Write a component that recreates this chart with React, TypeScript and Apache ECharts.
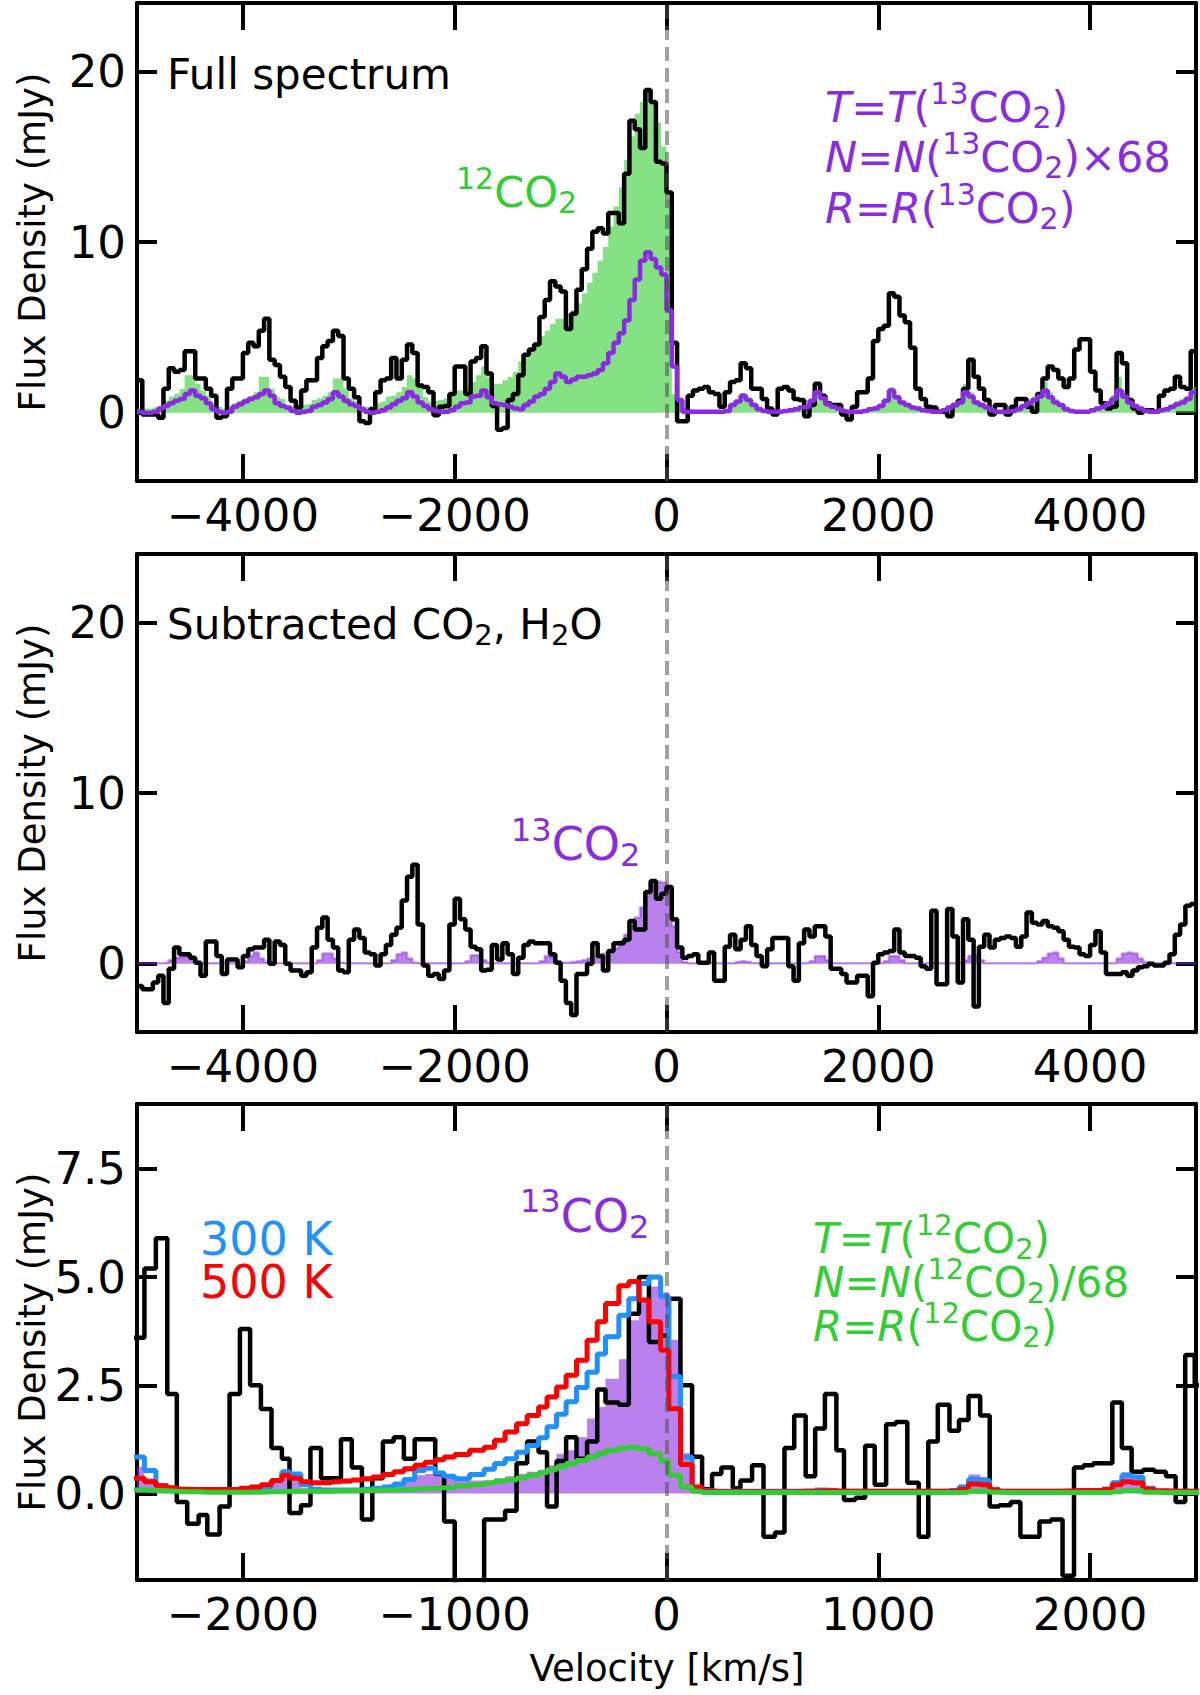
import React, { useEffect, useRef } from "react";
import * as echarts from "echarts";

const FONT = "DejaVu Sans";
const PURPLE = "#8a2be2";
const GREEN = "#32cd32";
const BLUE = "#1e90ff";
const RED = "#ff0000";

// panels 1 & 2: bins of 50 km/s, first centre at -4975
const WIDE_START = -4975;
const WIDE_BIN = 50;
const WIDE_X_TICKS = [-4000, -2000, 0, 2000, 4000];
const WIDE_Y_TICKS = [0, 10, 20];
const ZOOM_X_TICKS = [-2000, -1000, 0, 1000, 2000];
const ZOOM_Y_TICKS = [0, 2.5, 5, 7.5];

// panel 1: observed spectrum (black)
const P1_OBS = [
  1.9, -0.1, -0.1, -0.1, -0.3, 1.4, 2.6, 2.4, 2.5, 3.6,
  3.6, 2.0, 2.0, 1.4, 1.0, -0.3, -0.2, 1.4, 2.0, 2.0,
  3.5, 4.1, 3.9, 4.8, 5.5, 3.1, 2.8, 2.1, 1.5, 0.7,
  0.3, 1.3, 1.9, 1.9, 3.2, 3.9, 4.2, 4.8, 4.5, 2.0,
  1.4, 0.9, -0.5, -0.6, 0.2, 1.2, 1.9, 2.0, 3.2, 2.0,
  3.1, 4.0, 3.5, 1.6, 1.5, 1.2, -0.15, 0.35, 0.4, 1.1,
  2.7, 2.7, 1.1, 3.0, 3.2, 3.9, 2.3, 0.4, -1.0, -0.9,
  0.75, 1.1, 2.2, 3.4, 3.7, 4.0, 5.6, 6.6, 7.7, 7.4,
  7.1, 4.9, 5.8, 7.2, 8.4, 9.6, 10.6, 10.8, 10.5, 11.7,
  11.7, 11.1, 14.0, 17.1, 16.6, 15.5, 18.9, 18.2, 14.7, 14.6,
  12.9, 4.1, -0.5, -0.5, 1.0, 1.3, 1.4, 1.5, 1.2, 1.1,
  0.35, 1.2, 1.8, 1.9, 2.9, 2.6, 1.4, 1.4, 0.8, 0.25,
  -0.1, 1.4, 1.5, 1.3, 0.8, 0.75, -0.2, 0.45, 1.7, 1.0,
  0.55, 0.45, 0.45, -0.1, -0.4, 0.35, 1.2, 1.2, 2.0, 4.2,
  4.9, 5.1, 7.0, 6.8, 5.7, 5.3, 3.8, 1.4, 0.8, 0.35,
  0.3, 0.05, 0.05, -0.2, 0.45, 0.7, 1.4, 3.1, 2.1, 1.4,
  0.75, -0.1, 0.45, 0.45, -0.1, 0.35, 0.8, 0.8, 0.35, 0.05,
  1.1, 2.0, 2.7, 2.5, 2.0, 1.5, 2.0, 3.7, 4.3, 4.3,
  2.4, 1.3, 0.55, 0.25, 0.35, 3.5, 2.9, 0.75, 0.25, 0,
  0.15, 0.15, 0.05, 1.0, 1.3, 1.4, 2.1, 1.5, 1.4, 3.6,
];

// panel 1: 12CO2 model (green fill)
const P1_CO2_12 = [
  0.25, 0.25, 0.25, 0.3, 0.4, 0.7, 0.95, 1.1, 1.4, 2.2,
  2.2, 1.7, 1.3, 1.0, 0.5, 0.35, 0.25, 0.3, 0.55, 0.7,
  0.85, 1.0, 1.2, 2.1, 2.1, 1.4, 0.9, 0.8, 0.4, 0.35,
  0.35, 0.45, 0.5, 0.75, 0.85, 1.0, 1.2, 2.0, 2.0, 1.4,
  0.85, 0.7, 0.4, 0.35, 0.4, 0.55, 0.65, 0.95, 1.0, 1.2,
  1.5, 2.2, 2.0, 1.5, 0.9, 0.65, 0.7, 0.75, 0.85, 1.1,
  1.3, 1.3, 1.6, 1.8, 2.2, 2.7, 2.1, 1.7, 1.7, 1.9,
  2.1, 2.4, 3.0, 3.3, 3.7, 4.1, 4.5, 4.8, 5.2, 5.5,
  5.5, 5.8, 6.0, 6.4, 7.0, 7.6, 8.2, 8.9, 9.7, 10.9,
  12.1, 13.2, 14.8, 16.2, 17.5, 18.2, 18.9, 18.2, 17.0, 15.6,
  12.5, 1.1, 0.75, 0.3, 0.2, 0.15, 0.1, 0.1, 0.1, 0.1,
  0.15, 0.2, 0.55, 0.75, 1.15, 0.85, 0.5, 0.3, 0.2, 0.1,
  0.1, 0.1, 0.15, 0.2, 0.3, 0.35, 0.45, 0.8, 1.3, 0.95,
  0.6, 0.4, 0.3, 0.15, 0.1, 0.1, 0.1, 0.15, 0.25, 0.35,
  0.5, 0.85, 1.5, 1.05, 0.7, 0.5, 0.4, 0.3, 0.2, 0.15,
  0.1, 0.1, 0.2, 0.35, 0.55, 0.75, 1.7, 1.2, 0.75, 0.55,
  0.35, 0.2, 0.1, 0.1, 0.1, 0.15, 0.3, 0.5, 0.7, 0.95,
  1.2, 1.8, 1.2, 0.8, 0.55, 0.3, 0.15, 0.1, 0.1, 0.1,
  0.2, 0.3, 0.45, 0.7, 1.05, 2.1, 1.3, 0.8, 0.5, 0.3,
  0.15, 0.1, 0.1, 0.2, 0.3, 0.45, 0.65, 0.8, 1.0, 1.5,
];

// panel 1: 13CO2 model x68 (purple line)
const P1_CO2_13 = [
  0.05, 0, 0, 0.05, 0.25, 0.4, 0.55, 0.7, 0.8, 1.1,
  1.3, 1.0, 0.85, 0.55, 0.2, 0.05, 0, 0.05, 0.35, 0.5,
  0.65, 0.8, 0.9, 1.1, 1.3, 1.0, 0.55, 0.4, 0.3, 0.1,
  0, 0.05, 0.1, 0.35, 0.45, 0.6, 0.8, 1.2, 0.95, 0.7,
  0.5, 0.4, 0.2, 0.05, 0, 0.05, 0.15, 0.3, 0.5, 0.7,
  0.85, 1.2, 0.95, 0.6, 0.4, 0.2, 0.1, 0.05, 0.05, 0.15,
  0.35, 0.55, 0.6, 0.95, 1.0, 1.3, 0.9, 0.55, 0.5, 0.45,
  0.35, 0.25, 0.2, 0.45, 0.65, 0.95, 1.1, 1.4, 1.8, 2.3,
  2.1, 1.8, 1.95, 2.1, 2.1, 2.2, 2.3, 2.5, 2.9, 3.5,
  4.1, 4.65, 5.4, 6.6, 7.8, 8.9, 9.4, 9.0, 8.5, 8.1,
  6.0, 2.7, 0.75, 0.05, 0.05, 0.05, 0.05, 0.05, 0.05, 0.05,
  0.05, 0.1, 0.45, 0.65, 1.0, 0.75, 0.45, 0.2, 0.1, 0.05,
  0.05, 0.05, 0.1, 0.15, 0.2, 0.3, 0.35, 0.7, 1.2, 0.85,
  0.5, 0.35, 0.25, 0.1, 0.05, 0.05, 0.05, 0.1, 0.2, 0.25,
  0.4, 0.7, 1.3, 0.9, 0.6, 0.45, 0.3, 0.25, 0.15, 0.1,
  0.05, 0.05, 0.15, 0.3, 0.45, 0.6, 1.2, 0.95, 0.6, 0.45,
  0.3, 0.15, 0.05, 0.05, 0.05, 0.1, 0.2, 0.4, 0.55, 0.75,
  0.95, 1.3, 0.9, 0.6, 0.45, 0.2, 0.1, 0.05, 0.05, 0.05,
  0.15, 0.25, 0.35, 0.55, 0.8, 1.3, 0.95, 0.6, 0.4, 0.25,
  0.1, 0.05, 0.05, 0.15, 0.2, 0.35, 0.5, 0.6, 0.8, 1.2,
];

// panel 2: residual after subtracting CO2 and H2O (black)
const P2_OBS = [
  -1.3, -1.5, -1.5, -1.1, -0.7, -2.3, -0.3, 0.95, 0.55, 0.55,
  0.35, 0.05, -0.7, 1.3, 1.3, 0.45, -0.6, 0.25, 0.25, -0.2,
  0.45, 0.85, 0.95, 0.95, 1.4, 0, 1.3, 1.1, 0, -0.4,
  -0.4, -0.7, -0.5, 0.95, 2.1, 2.7, 1.4, 0.95, -0.4, -0.5,
  1.4, 2.0, 1.5, 0.65, 0.55, -0.1, 0.55, 1.1, 1.7, 2.1,
  3.7, 5.1, 5.8, 2.3, -0.1, -0.7, -0.6, -0.9, -0.4, 2.3,
  3.8, 2.6, 2.0, 1.0, 0.85, -0.4, -0.35, 1.1, 0.25, 1.2,
  0.55, -0.6, 0.35, 1.1, 1.3, 1.2, 1.2, 1.2, 0.55, 0.05,
  -1.0, -2.3, -3.0, -0.6, -0.6, 0, 1.2, 0.45, -0.4, 0.75,
  1.2, 1.2, 1.4, 2.5, 2.0, 2.0, 4.2, 4.85, 3.8, 4.1,
  4.5, 2.6, 0.95, 0.35, 0.45, 0.55, 0.05, 0.05, 0.65, -1.0,
  -1.0, 1.0, 1.7, 0.85, 1.4, 2.2, 1.1, 0.45, -0.15, 0.85,
  1.5, 1.5, 1.5, -0.15, -1.0, 1.2, 2.0, 1.6, 2.2, 2.2,
  1.6, -0.3, -0.3, -0.6, -1.1, -1.1, -0.7, -0.7, -1.9, 0.05,
  0.55, 0.65, 0.75, 2.0, 0.65, 0.45, 0.45, 0.35, -0.15, -0.3,
  3.1, -1.2, -1.2, 3.2, 1.6, -1.1, 2.6, 1.4, -2.5, 1.0,
  1.7, 0.95, 1.4, 1.5, 1.6, 1.5, 1.0, 1.6, 3.0, 2.4,
  2.3, 2.5, 2.2, 2.1, 1.9, 1.4, 1.0, 0.95, 0.55, 0.45,
  1.1, 1.9, 0.65, -0.6, -0.6, -0.6, -0.5, -0.7, -0.4, -0.2,
  -0.15, 0, -0.1, -0.1, 0.05, 0.55, 1.7, 2.3, 3.4, 3.5,
];

// panel 2: 13CO2 model (purple fill)
const P2_CO2_13 = [
  0.02, 0.02, 0.02, 0.02, 0.02, 0.05, 0.2, 0.35, 0.4, 0.45,
  0.25, 0.1, 0.02, 0.02, 0.02, 0.02, 0.02, 0.02, 0.02, 0.02,
  0.15, 0.45, 0.65, 0.3, 0.1, 0.02, 0.02, 0.02, 0.02, 0.02,
  0.02, 0.02, 0.02, 0.02, 0.2, 0.6, 0.6, 0.3, 0.05, 0.02,
  0.02, 0.02, 0.02, 0.02, 0.02, 0.02, 0.02, 0.02, 0.2, 0.55,
  0.65, 0.3, 0.05, 0.02, 0.02, 0.02, 0.02, 0.02, 0.02, 0.02,
  0.02, 0.02, 0.15, 0.5, 0.5, 0.2, 0.05, 0.02, 0.02, 0.02,
  0.02, 0.02, 0.02, 0.02, 0.02, 0.02, 0.15, 0.45, 0.4, 0.15,
  0.05, 0.05, 0.1, 0.15, 0.2, 0.3, 0.4, 0.45, 0.6, 0.75,
  0.9, 1.3, 1.7, 2.2, 2.7, 3.3, 4.0, 4.6, 4.8, 4.75,
  4.4, 2.2, 0.7, 0.1, 0.02, 0.02, 0.02, 0.02, 0.02, 0.02,
  0.02, 0.02, 0.02, 0.1, 0.15, 0.1, 0.02, 0.02, 0.02, 0.02,
  0.02, 0.02, 0.02, 0.02, 0.02, 0.02, 0.02, 0.15, 0.45, 0.45,
  0.2, 0.02, 0.02, 0.02, 0.02, 0.02, 0.02, 0.02, 0.02, 0.02,
  0.02, 0.15, 0.45, 0.45, 0.2, 0.02, 0.02, 0.02, 0.02, 0.02,
  0.02, 0.02, 0.02, 0.02, 0.02, 0.02, 0.2, 0.45, 0.5, 0.2,
  0.02, 0.02, 0.02, 0.02, 0.02, 0.02, 0.02, 0.02, 0.02, 0.02,
  0.15, 0.35, 0.6, 0.65, 0.3, 0.02, 0.02, 0.02, 0.02, 0.02,
  0.02, 0.02, 0.02, 0.02, 0.02, 0.3, 0.6, 0.65, 0.6, 0.3,
  0.1, 0.02, 0.02, 0.02, 0.02, 0.02, 0.02, 0.02, 0.02, 0.02,
];

// panel 3: bin edges in km/s (103 bins)
const P3_EDGES = [
  -2530, -2465, -2411, -2357, -2312, -2263, -2209, -2168, -2110, -2063,
  -2014, -1966, -1915, -1865, -1816, -1780, -1726, -1681, -1631, -1582,
  -1537, -1486, -1438, -1389, -1339, -1288, -1240, -1189, -1141, -1092,
  -1050, -1000, -930, -861, -812, -762, -708, -658, -604, -564,
  -519, -474, -425, -375, -327, -288, -225, -178, -130, -83,
  -28, 11, 66, 121, 168, 215, 259, 313, 349, 404,
  458, 512, 557, 603, 657, 702, 748, 802, 838, 892,
  938, 983, 1037, 1082, 1137, 1191, 1236, 1281, 1336, 1381,
  1426, 1481, 1526, 1571, 1625, 1671, 1716, 1761, 1815, 1870,
  1924, 1969, 2015, 2060, 2105, 2150, 2196, 2250, 2304, 2358,
  2404, 2449, 2494, 2540,
];

const P3_OBS = [
  3.6, 5.2, 5.9, 2.3, -0.2, -0.7, -0.5, -0.95, -0.3, 2.3,
  3.8, 2.5, 1.95, 1.05, 0.8, -0.45, -0.27, 1.05, 0.35, 0.35,
  1.25, 0.6, -0.6, 0.35, 1.2, 1.3, 0.8, 1.25, 1.25, 0.45,
  -0.65, -2.6, -2.6, -0.6, -0.6, -0.4, 0.7, 1.2, 0.95, -0.3,
  0.75, 1.3, 0.8, 1.2, 2.4, 2.1, 2.05, 4.15, 5.0, 3.5,
  3.65, 4.5, 2.5, 0.85, 0.1, 0.45, 0.6, 0.12, 0.3, 0.65,
  -1.0, -0.9, 1.05, 1.8, 0.4, 1.5, 2.3, 1.0, -0.15, -0.1,
  1.1, 0.2, 1.6, 1.65, 0.25, -1.0, 1.2, 2.05, 1.45, 1.7,
  2.25, 1.8, -0.3, -0.27, -0.2, -1.0, -1.0, -0.65, -0.6, -1.9,
  0.6, 0.65, 0.7, 0.7, 2.1, 1.05, 0.5, 0.55, 0.5, 0.4,
  -0.2, 3.2, 2.5,
];

// 13CO2 best fit (purple fill)
const P3_FIT = [
  0.62, 0.35, 0.13, 0.06, 0.04, 0.04, 0.04, 0.04, 0.04, 0.04,
  0.04, 0.05, 0.1, 0.25, 0.53, 0.45, 0.12, 0.05, 0.04, 0.04,
  0.04, 0.04, 0.05, 0.06, 0.1, 0.18, 0.3, 0.42, 0.45, 0.4,
  0.35, 0.3, 0.3, 0.3, 0.35, 0.4, 0.45, 0.5, 0.55, 0.65,
  0.92, 1.0, 1.3, 1.73, 2.0, 2.65, 3.1, 4.0, 4.5, 4.78,
  4.65, 3.55, 0.93, 0.13, 0.04, 0.04, 0.04, 0.04, 0.04, 0.04,
  0.04, 0.04, 0.05, 0.06, 0.07, 0.09, 0.08, 0.05, 0.04, 0.04,
  0.04, 0.04, 0.04, 0.04, 0.04, 0.04, 0.05, 0.06, 0.08, 0.2,
  0.44, 0.38, 0.1, 0.05, 0.04, 0.04, 0.04, 0.04, 0.04, 0.04,
  0.04, 0.05, 0.06, 0.1, 0.3, 0.49, 0.42, 0.15, 0.06, 0.05,
  0.04, 0.04, 0.04,
];

// 300 K model (blue)
const P3_300K = [
  0.84, 0.53, 0.18, 0.1, 0.09, 0.08, 0.08, 0.08, 0.08, 0.08,
  0.08, 0.1, 0.15, 0.3, 0.5, 0.45, 0.2, 0.1, 0.08, 0.08,
  0.08, 0.08, 0.1, 0.12, 0.15, 0.22, 0.32, 0.53, 0.58, 0.47,
  0.4, 0.34, 0.44, 0.56, 0.69, 0.8, 0.95, 1.11, 1.29, 1.54,
  1.83, 2.12, 2.45, 2.8, 3.22, 3.62, 4.12, 4.5, 4.85, 5.0,
  4.55, 2.7, 0.84, 0.12, 0.06, 0.05, 0.05, 0.05, 0.05, 0.05,
  0.05, 0.05, 0.05, 0.05, 0.06, 0.08, 0.07, 0.05, 0.05, 0.05,
  0.05, 0.05, 0.05, 0.05, 0.05, 0.05, 0.05, 0.05, 0.07, 0.15,
  0.33, 0.3, 0.1, 0.05, 0.05, 0.05, 0.05, 0.05, 0.05, 0.05,
  0.05, 0.05, 0.05, 0.08, 0.25, 0.42, 0.38, 0.12, 0.05, 0.05,
  0.05, 0.05, 0.05,
];

// 500 K model (red)
const P3_500K = [
  0.35, 0.27, 0.18, 0.13, 0.1, 0.09, 0.09, 0.09, 0.09, 0.1,
  0.12, 0.15, 0.2, 0.3, 0.42, 0.35, 0.27, 0.25, 0.25, 0.27,
  0.29, 0.31, 0.34, 0.38, 0.44, 0.5, 0.57, 0.65, 0.72, 0.78,
  0.84, 0.9, 1.0, 1.07, 1.23, 1.42, 1.61, 1.8, 2.0, 2.23,
  2.46, 2.73, 3.08, 3.54, 3.97, 4.39, 4.8, 4.9, 4.47, 3.97,
  3.31, 1.96, 0.67, 0.15, 0.05, 0.04, 0.04, 0.04, 0.04, 0.04,
  0.04, 0.04, 0.04, 0.05, 0.05, 0.06, 0.06, 0.05, 0.05, 0.05,
  0.05, 0.05, 0.05, 0.05, 0.05, 0.05, 0.05, 0.05, 0.06, 0.1,
  0.22, 0.2, 0.08, 0.05, 0.05, 0.05, 0.05, 0.05, 0.05, 0.06,
  0.07, 0.07, 0.07, 0.1, 0.2, 0.27, 0.25, 0.1, 0.06, 0.05,
  0.05, 0.05, 0.05,
];

// 12CO2 parameters, N/68 (green)
const P3_SCALED = [
  0.08, 0.07, 0.06, 0.05, 0.04, 0.04, 0.03, 0.03, 0.03, 0.03,
  0.03, 0.03, 0.04, 0.04, 0.05, 0.05, 0.05, 0.05, 0.05, 0.06,
  0.06, 0.07, 0.07, 0.08, 0.08, 0.09, 0.1, 0.11, 0.12, 0.13,
  0.14, 0.17, 0.2, 0.24, 0.28, 0.31, 0.36, 0.42, 0.48, 0.55,
  0.62, 0.69, 0.76, 0.84, 0.92, 1.0, 1.05, 1.07, 1.03, 0.92,
  0.75, 0.42, 0.15, 0.05, 0.02, 0.02, 0.02, 0.02, 0.02, 0.02,
  0.02, 0.02, 0.02, 0.02, 0.02, 0.02, 0.02, 0.02, 0.02, 0.02,
  0.02, 0.02, 0.02, 0.02, 0.02, 0.02, 0.02, 0.02, 0.02, 0.03,
  0.05, 0.05, 0.03, 0.02, 0.02, 0.02, 0.02, 0.02, 0.02, 0.02,
  0.02, 0.02, 0.02, 0.02, 0.04, 0.07, 0.06, 0.03, 0.02, 0.02,
  0.02, 0.02, 0.02,
];

const GRIDS = [
  { left: 137, top: 3, width: 1059, height: 478 },
  { left: 137, top: 554, width: 1059, height: 478 },
  { left: 137, top: 1104, width: 1059, height: 476 },
];

const wideSteps = (vals: number[]) => {
  const pts: number[][] = [[-5000, vals[0]]];
  vals.forEach((v, i) => pts.push([WIDE_START + WIDE_BIN * i, v]));
  pts.push([5000, vals[vals.length - 1]]);
  return pts;
};

const zoomSteps = (vals: number[]) => {
  const pts = vals.map((v, m) => [P3_EDGES[m], v]);
  pts.push([P3_EDGES[vals.length], vals[vals.length - 1]]);
  return pts;
};

const minusFmt = (v: number) => (v < 0 ? "\u2212" + Math.abs(v) : String(v));

const axisLine = { show: true, onZero: false, lineStyle: { color: "#000", width: 4 } };

function xPair(grid: number, min: number, max: number, ticks: number[]) {
  const common = {
    type: "value",
    gridIndex: grid,
    min,
    max,
    splitLine: { show: false },
    axisLine,
    axisTick: { show: true, inside: true, length: 27, customValues: ticks, lineStyle: { color: "#000", width: 4 } },
  };
  return [
    {
      ...common,
      position: "bottom",
      axisLabel: { show: true, customValues: ticks, formatter: minusFmt, fontSize: 45, fontFamily: FONT, color: "#000", margin: 12 },
    },
    { ...common, position: "top", axisLabel: { show: false } },
  ];
}

function yPair(grid: number, min: number, max: number, ticks: number[], fmt: (v: number) => string) {
  const common = {
    type: "value",
    gridIndex: grid,
    min,
    max,
    splitLine: { show: false },
    axisLine,
    axisTick: { show: true, inside: true, length: 20, customValues: ticks, lineStyle: { color: "#000", width: 4 } },
  };
  return [
    {
      ...common,
      position: "left",
      axisLabel: { show: true, customValues: ticks, formatter: fmt, fontSize: 45, fontFamily: FONT, color: "#000", margin: 11 },
    },
    { ...common, position: "right", axisLabel: { show: false } },
  ];
}

const zeroLine = {
  silent: true,
  symbol: ["none", "none"],
  label: { show: false },
  lineStyle: { color: "rgba(80,80,80,0.55)", width: 4, type: [14, 7] },
  data: [{ xAxis: 0 }],
};

function stepSeries(grid: number, data: number[][], color: string, width: number, step: string, extra: any = {}) {
  return {
    type: "line",
    xAxisIndex: grid * 2,
    yAxisIndex: grid * 2,
    data,
    step,
    symbol: "none",
    silent: true,
    lineStyle: { color, width },
    itemStyle: { color },
    ...extra,
  };
}

function fillSeries(grid: number, data: number[][], color: string, step: string, lineWidth = 0) {
  return stepSeries(grid, data, color, lineWidth, step, {
    lineStyle: { color, width: lineWidth, opacity: 0.45 },
    areaStyle: { color, opacity: 0.6, origin: "auto" },
  });
}

type Part = [string, "n" | "i" | "sup" | "sub"];

// mathtext-like label: x is the left edge, baseline is the main text baseline
function richLabel(x: number, baseline: number, parts: Part[], F: number, color: string) {
  const S = Math.round(F * 0.7);
  const Q = 0.14 * F - 0.154 * (F - S);
  const P = Q + 0.154 * F + 0.42 * F - 0.154 * S;
  const lb = baseline + Q + 0.154 * F;
  const tok = (size: number, pad: number, italic = false) => ({
    fontSize: size,
    lineHeight: size,
    fontFamily: FONT,
    fontStyle: italic ? "italic" : "normal",
    fill: color,
    verticalAlign: "bottom",
    padding: [0, 0, pad, 0],
  });
  return {
    type: "text",
    x,
    y: lb,
    silent: true,
    style: {
      text: parts.map(([t, k]) => `{${k}|${t}}`).join(""),
      rich: { n: tok(F, Q), i: tok(F, Q, true), sup: tok(S, P), sub: tok(S, 0) },
      fill: color,
      fontFamily: FONT,
      fontSize: F,
      align: "left",
      verticalAlign: "bottom",
    },
  };
}

const plainText = (x: number, y: number, text: string, size: number, rotation = 0) => ({
  type: "text",
  x,
  y,
  rotation,
  silent: true,
  style: { text, fill: "#000", fontFamily: FONT, fontSize: size, align: "center", verticalAlign: "middle" },
});

const formula = (sym: string, iso: string, tail: string): Part[] => [
  [sym, "i"],
  ["=", "n"],
  [sym, "i"],
  ["(", "n"],
  [iso, "sup"],
  ["CO", "n"],
  ["2", "sub"],
  [")" + tail, "n"],
];

function buildOption() {
  const xAxis = [
    ...xPair(0, -5000, 5000, WIDE_X_TICKS),
    ...xPair(1, -5000, 5000, WIDE_X_TICKS),
    ...xPair(2, -2500, 2500, ZOOM_X_TICKS),
  ];
  const yAxis = [
    ...yPair(0, -4, 24, WIDE_Y_TICKS, (v) => String(v)),
    ...yPair(1, -4, 24, WIDE_Y_TICKS, (v) => String(v)),
    ...yPair(2, -2, 9, ZOOM_Y_TICKS, (v) => v.toFixed(1)),
  ];

  const series = [
    // panel 1
    fillSeries(0, wideSteps(P1_CO2_12), GREEN, "middle"),
    stepSeries(0, wideSteps(P1_OBS), "#000", 4.5, "middle"),
    stepSeries(0, wideSteps(P1_CO2_13), PURPLE, 4.5, "middle", { markLine: zeroLine }),
    // panel 2
    fillSeries(1, wideSteps(P2_CO2_13), PURPLE, "middle", 2.5),
    stepSeries(1, wideSteps(P2_OBS), "#000", 4.5, "middle", { markLine: zeroLine }),
    // panel 3
    fillSeries(2, zoomSteps(P3_FIT), PURPLE, "end"),
    stepSeries(2, zoomSteps(P3_OBS), "#000", 4.5, "end"),
    stepSeries(2, zoomSteps(P3_300K), BLUE, 5, "end"),
    stepSeries(2, zoomSteps(P3_500K), RED, 5, "end"),
    stepSeries(2, zoomSteps(P3_SCALED), GREEN, 5, "end", { markLine: zeroLine }),
  ];

  const graphic = [
    plainText(32, 242, "Flux Density (mJy)", 37, Math.PI / 2),
    plainText(32, 793, "Flux Density (mJy)", 37, Math.PI / 2),
    plainText(32, 1342, "Flux Density (mJy)", 37, Math.PI / 2),
    plainText(667, 1668, "Velocity [km/s]", 37),
    richLabel(167, 89, [["Full spectrum", "n"]], 42, "#000"),
    richLabel(456, 206.7, [["12", "sup"], ["CO", "n"], ["2", "sub"]], 43, GREEN),
    richLabel(825, 121.7, formula("T", "13", ""), 43, PURPLE),
    richLabel(825, 171.7, formula("N", "13", "\u00d768"), 43, PURPLE),
    richLabel(825, 223, formula("R", "13", ""), 43, PURPLE),
    richLabel(167, 639, [["Subtracted CO", "n"], ["2", "sub"], [", H", "n"], ["2", "sub"], ["O", "n"]], 42, "#000"),
    richLabel(511, 860, [["13", "sup"], ["CO", "n"], ["2", "sub"]], 46, PURPLE),
    richLabel(520, 1231.6, [["13", "sup"], ["CO", "n"], ["2", "sub"]], 46, PURPLE),
    richLabel(200, 1254.6, [["300 K", "n"]], 46, BLUE),
    richLabel(200, 1297.8, [["500 K", "n"]], 46, RED),
    richLabel(813, 1253, formula("T", "12", ""), 42, GREEN),
    richLabel(813, 1297, formula("N", "12", "/68"), 42, GREEN),
    richLabel(813, 1341, formula("R", "12", ""), 42, GREEN),
  ];

  return {
    animation: false,
    backgroundColor: "#fff",
    textStyle: { fontFamily: FONT },
    grid: GRIDS.map((g) => ({ ...g, containLabel: false })),
    xAxis,
    yAxis,
    series,
    graphic,
  };
}

export default function App() {
  const chartRef = useRef<HTMLDivElement | null>(null);

  useEffect(() => {
    if (!chartRef.current) return;
    const chart = echarts.init(chartRef.current, null, { renderer: "svg" });
    chart.setOption(buildOption() as any);
    return () => chart.dispose();
  }, []);

  return (
    <div
      ref={chartRef}
      style={{ position: "absolute", left: 0, top: 0, width: 1200, height: 1695, background: "#fff" }}
    />
  );
}
